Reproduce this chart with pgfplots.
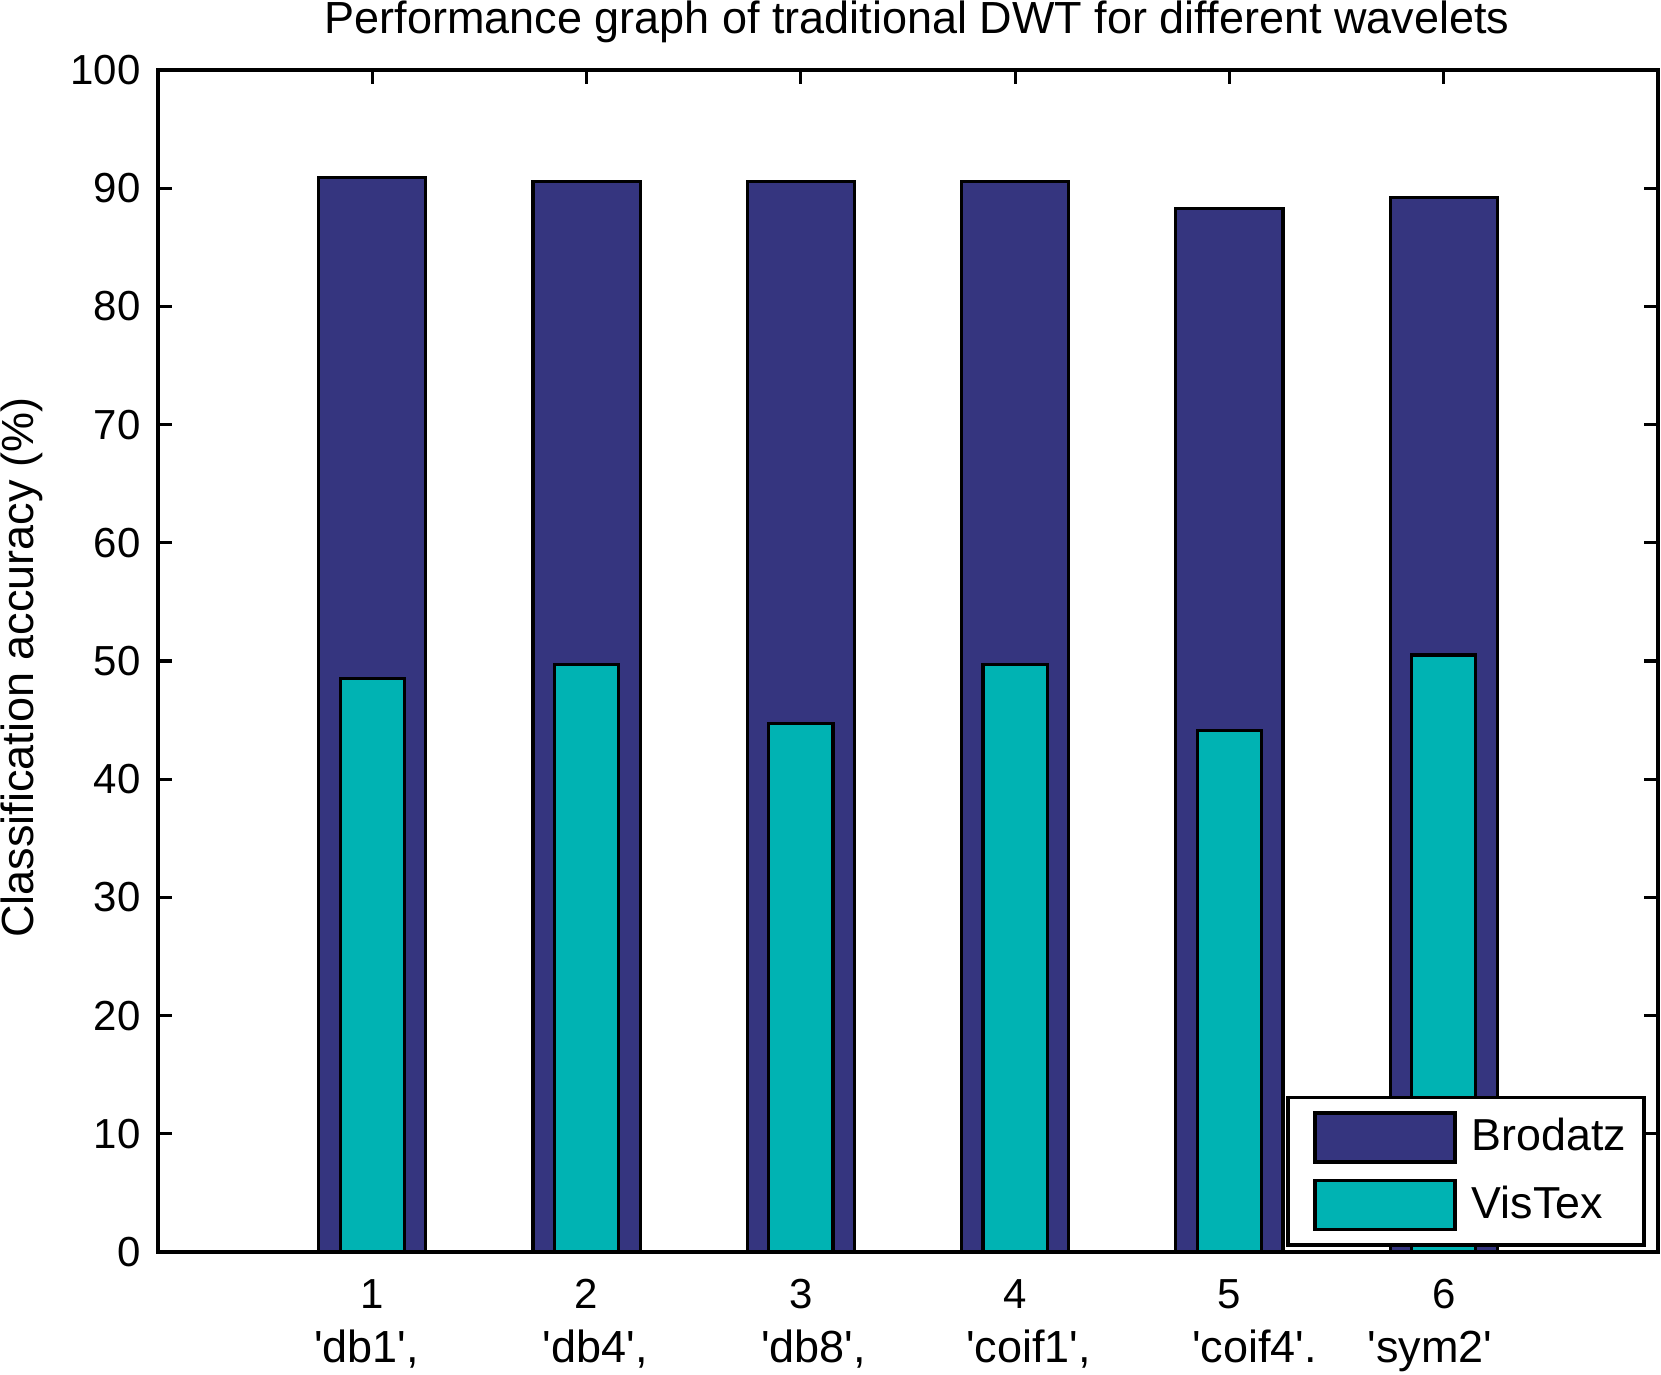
\documentclass[border=0pt]{standalone}
\usepackage{pgfplots}
\pgfplotsset{compat=1.18}
\usepackage{fontspec}
\setmainfont{Liberation Sans}
\definecolor{brod}{HTML}{35357F}
\definecolor{vis}{HTML}{00B3B3}
\newcommand{\q}{\textquotesingle}
\begin{document}
\begin{tikzpicture}
\fontsize{10.5}{12.6}\selectfont
\begin{axis}[
  scale only axis,
  width=375pt, height=295.5pt,
  xmin=0, xmax=7, ymin=0, ymax=100,
  clip=false,
  xtick={1,2,3,4,5,6},
  ytick={0,10,...,100},
  tick align=inside,
  major tick length=3.5pt,
  tick style={line width=0.8pt, black},
  axis line style={line width=1pt},
  every axis/.append style={line width=1pt},
  xticklabel style={anchor=base, yshift=-14pt, font=\fontsize{10.5}{12.6}\selectfont},
  yticklabel style={anchor=east, xshift=-0.4pt, font=\fontsize{10.5}{12.6}\selectfont},
  /pgf/number format/assume math mode=true,
  every axis title shift=0pt,
  title={Performance graph of traditional DWT for different wavelets},
  title style={at={(axis description cs:0.506,1)}, anchor=base, yshift=9.25pt, font=\fontsize{11.25}{13.5}\selectfont, inner sep=0pt},
  ylabel={Classification accuracy (\%)},
  ylabel style={at={(axis description cs:-0.0833,0.4945)}, anchor=base, font=\fontsize{11.25}{13.5}\selectfont, inner sep=0pt},
  legend style={at={(rel axis cs:0.992,0.0042)}, anchor=south east, draw=black, line width=0.9pt,
    font=\fontsize{11.2}{13.4}\selectfont, inner xsep=2.5pt, inner ysep=3.2pt, row sep=3.2pt, column sep=1.8pt,
    cells={anchor=west}},
  legend image code/.code={\path (0pt,0pt); \draw[#1, line width=0.8pt] (3.9pt,-6.125pt) rectangle (38.9pt,6.125pt);},
]
\addplot[ybar, bar width=0.5, bar shift=0pt, fill=brod, draw=black, line width=0.8pt]
  coordinates {(1,90.9) (2,90.6) (3,90.6) (4,90.6) (5,88.3) (6,89.2)};
\addlegendentry{Brodatz}
\addplot[ybar, bar width=0.3, bar shift=0pt, fill=vis, draw=black, line width=0.8pt]
  coordinates {(1,48.5) (2,49.7) (3,44.7) (4,49.7) (5,44.1) (6,50.5)};
\addlegendentry{VisTex}
\begin{scope}[every node/.style={anchor=base, yshift=-27.5pt, font=\fontsize{11.25}{13.5}\selectfont}]
\node at (axis cs:0.973,0) {\q db1\q,};
\node at (axis cs:2.04,0) {\q db4\q,};
\node at (axis cs:3.059,0) {\q db8\q,};
\node at (axis cs:4.063,0) {\q coif1\q,};
\node at (axis cs:5.118,0) {\q coif4\q.};
\node at (axis cs:5.936,0) {\q sym2\q};
\end{scope}
\end{axis}
\pgfresetboundingbox
\path[use as bounding box] (-39.5pt,-30.5pt) rectangle (375.75pt,313pt);
\end{tikzpicture}
\end{document}
